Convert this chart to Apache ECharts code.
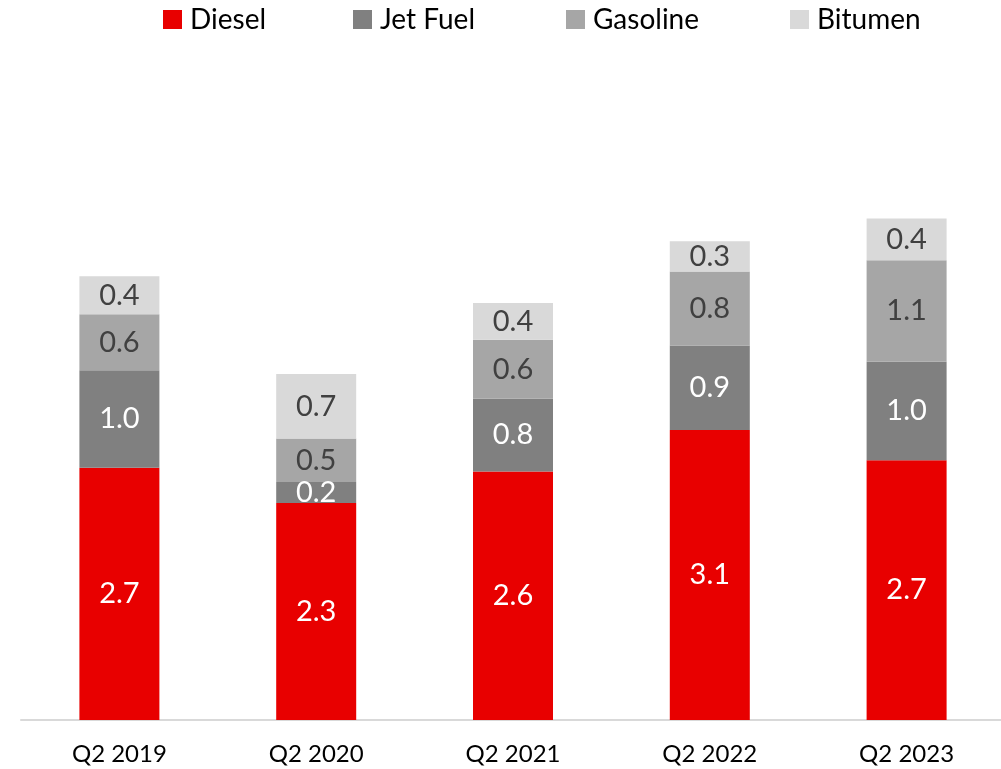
<!DOCTYPE html>
<html>
<head>
<meta charset="utf-8">
<script src="https://cdn.jsdelivr.net/npm/echarts@6/dist/echarts.min.js"></script>
<style>
html,body{margin:0;padding:0;background:#fff;}
#chart{width:1001px;height:769px;}
</style>
</head>
<body>
<div id="chart"></div>
<script>
const categories = ['Q2 2019', 'Q2 2020', 'Q2 2021', 'Q2 2022', 'Q2 2023'];
const seriesNames = ['Diesel', 'Jet Fuel', 'Gasoline', 'Bitumen'];
const diesel   = [2.66, 2.29, 2.62, 3.06, 2.74];
const jetFuel  = [1.03, 0.22, 0.77, 0.89, 1.04];
const gasoline = [0.59, 0.46, 0.62, 0.78, 1.07];
const bitumen  = [0.40, 0.68, 0.39, 0.32, 0.44];

const colors = ['#E80000', '#808080', '#A6A6A6', '#D9D9D9'];
const labelColors = ['#ffffff', '#ffffff', '#404040', '#404040'];
const values = [diesel, jetFuel, gasoline, bitumen];
const FONT = 'Lato';

const legendLefts = [163, 353, 566, 790];

const chart = echarts.init(document.getElementById('chart'), null, {renderer: 'canvas'});
chart.setOption({
  animation: false,
  backgroundColor: '#ffffff',
  color: colors,
  legend: seriesNames.map((n, i) => ({
    data: [n],
    left: legendLefts[i],
    top: 5,
    padding: 0,
    icon: 'rect',
    itemWidth: 19,
    itemHeight: 19,
    selectedMode: false,
    textStyle: {fontFamily: FONT, fontSize: 28, color: '#000000', lineHeight: 29, padding: [0, 0, 0, 3]}
  })),
  grid: {left: 21, top: 56.4, width: 984, height: 663.6, containLabel: false, outerBoundsMode: 'none'},
  xAxis: {
    type: 'category',
    data: categories,
    axisLine: {lineStyle: {color: '#D9D9D9', width: 2}},
    axisTick: {show: false},
    axisLabel: {fontFamily: FONT, fontSize: 24, color: '#000000', margin: 22}
  },
  yAxis: {
    type: 'value',
    min: 0,
    max: 7,
    show: false,
    splitLine: {show: false}
  },
  series: seriesNames.map((n, i) => ({
    name: n,
    type: 'bar',
    stack: 'total',
    barWidth: 80,
    data: values[i],
    itemStyle: {color: colors[i]},
    label: {
      show: true,
      position: 'inside',
      fontFamily: FONT,
      fontSize: 29,
      color: labelColors[i],
      formatter: p => p.value.toFixed(1)
    }
  }))
});
</script>
</body>
</html>
